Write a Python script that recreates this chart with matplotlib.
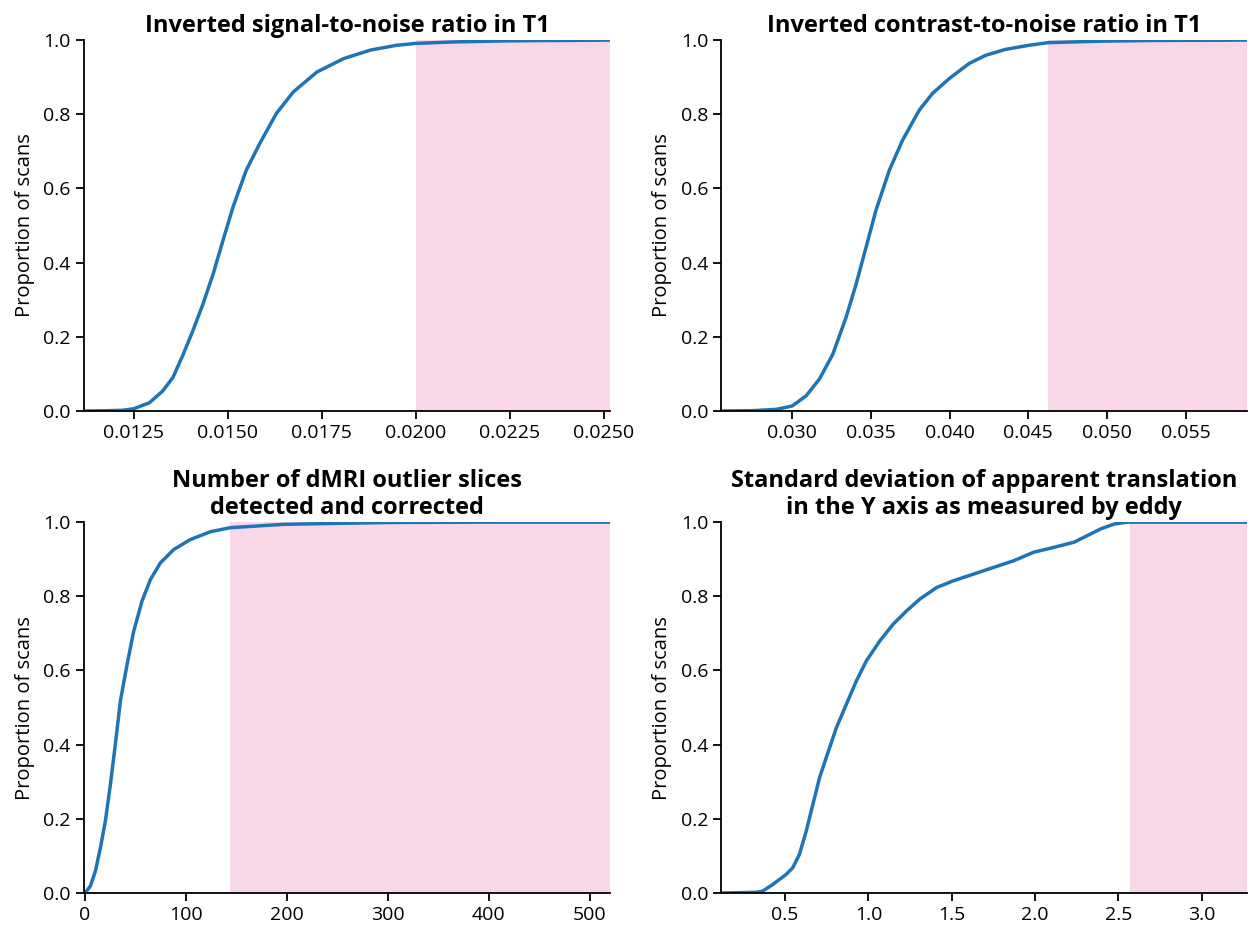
import matplotlib
matplotlib.use("Agg")
import matplotlib.pyplot as plt

plt.rcParams['font.family'] = ['Open Sans', 'DejaVu Sans']

# inverted SNR in T1
snr_x = [0.01118, 0.0118, 0.0122, 0.0125, 0.01292, 0.01327, 0.01354, 0.01380, 0.01407,
         0.01434, 0.01461, 0.01487, 0.01514, 0.01549, 0.01585, 0.01629, 0.01674, 0.01737,
         0.01808, 0.01879, 0.01949, 0.0200, 0.0210, 0.0225, 0.0252]
snr_y = [0.0, 0.0008, 0.002, 0.006, 0.0225, 0.054, 0.090, 0.149, 0.216,
         0.288, 0.369, 0.459, 0.550, 0.649, 0.721, 0.802, 0.860, 0.914,
         0.950, 0.973, 0.986, 0.991, 0.995, 0.998, 1.0]
snr_cut = 0.0200

# inverted CNR in T1
cnr_x = [0.0255, 0.02751, 0.02899, 0.0300, 0.03089, 0.03173, 0.03258, 0.03342, 0.03406,
         0.03469, 0.03532, 0.03617, 0.03701, 0.03807, 0.03891, 0.03997, 0.04124, 0.04229,
         0.04356, 0.04504, 0.04624, 0.0495, 0.0530, 0.0590]
cnr_y = [0.0, 0.001, 0.0045, 0.0135, 0.041, 0.086, 0.153, 0.252, 0.342,
         0.441, 0.541, 0.649, 0.730, 0.811, 0.856, 0.896, 0.937, 0.959,
         0.975, 0.986, 0.993, 0.997, 0.999, 1.0]
cnr_cut = 0.04625

# dMRI outlier slices
out_x = [0, 5.3, 10.2, 15.2, 20.1, 25.1, 30.0, 35.0, 41.6, 48.2, 56.4, 64.7, 74.6, 87.8,
         104.3, 124.1, 143.9, 196.7, 300, 400, 520]
out_y = [0.0, 0.019, 0.059, 0.122, 0.194, 0.293, 0.401, 0.518, 0.616, 0.706, 0.787, 0.845,
         0.890, 0.926, 0.953, 0.974, 0.985, 0.994, 0.999, 1.0, 1.0]
out_cut = 144

# sd of translation in Y (eddy)
ty_x = [0.114, 0.325, 0.365, 0.426, 0.506, 0.546, 0.586, 0.627, 0.667, 0.707, 0.747, 0.808,
        0.868, 0.928, 0.988, 1.069, 1.149, 1.230, 1.310, 1.411, 1.511, 1.632, 1.752, 1.873,
        1.993, 2.114, 2.235, 2.315, 2.395, 2.476, 2.556, 3.28]
ty_y = [0.0, 0.002, 0.005, 0.023, 0.050, 0.068, 0.104, 0.167, 0.239, 0.311, 0.365, 0.446,
        0.509, 0.572, 0.626, 0.680, 0.725, 0.761, 0.793, 0.824, 0.842, 0.860, 0.878, 0.896,
        0.919, 0.932, 0.946, 0.964, 0.982, 0.995, 1.0, 1.0]
ty_cut = 2.567

panels = [
    ("Inverted signal-to-noise ratio in T1", snr_x, snr_y, snr_cut, (0.01118, 0.02516),
     [0.0125, 0.0150, 0.0175, 0.0200, 0.0225, 0.0250], "{:.4f}"),
    ("Inverted contrast-to-noise ratio in T1", cnr_x, cnr_y, cnr_cut, (0.0255, 0.0589),
     [0.030, 0.035, 0.040, 0.045, 0.050, 0.055], "{:.3f}"),
    ("Number of dMRI outlier slices\ndetected and corrected", out_x, out_y, out_cut, (-1, 520),
     [0, 100, 200, 300, 400, 500], "{:.0f}"),
    ("Standard deviation of apparent translation\nin the Y axis as measured by eddy", ty_x, ty_y,
     ty_cut, (0.1175, 3.273), [0.5, 1.0, 1.5, 2.0, 2.5, 3.0], "{:.1f}"),
]

fig = plt.figure(figsize=(12.49, 9.32), dpi=100)
boxes = [(0.0673, 0.559), (0.5775, 0.559), (0.0673, 0.0418), (0.5775, 0.0418)]
w, h = 0.4211, 0.398

for (title, xs, ys, cut, xlim, xt, fmt), (l, b) in zip(panels, boxes):
    ax = fig.add_axes([l, b, w, h])
    ax.axvspan(cut, xlim[1], color='#f7d7e8', lw=0)
    ax.plot(xs, ys, color='#1f74b4', lw=2.5)
    ax.set_xlim(*xlim)
    ax.set_ylim(0, 1.0)
    ax.set_xticks(xt)
    ax.set_xticklabels([fmt.format(v) for v in xt])
    ax.set_yticks([0, 0.2, 0.4, 0.6, 0.8, 1.0])
    ax.set_yticklabels(["0.0", "0.2", "0.4", "0.6", "0.8", "1.0"])
    ax.spines['top'].set_visible(False)
    ax.spines['right'].set_visible(False)
    for s in ('left', 'bottom'):
        ax.spines[s].set_linewidth(1.3)
    ax.tick_params(labelsize=14, width=1.3, length=6)
    ax.set_ylabel("Proportion of scans", fontsize=14.5, labelpad=6)
    ax.set_title(title, fontsize=17, fontweight='bold', pad=6, linespacing=1.15)

fig.savefig("out.png", dpi=100)
